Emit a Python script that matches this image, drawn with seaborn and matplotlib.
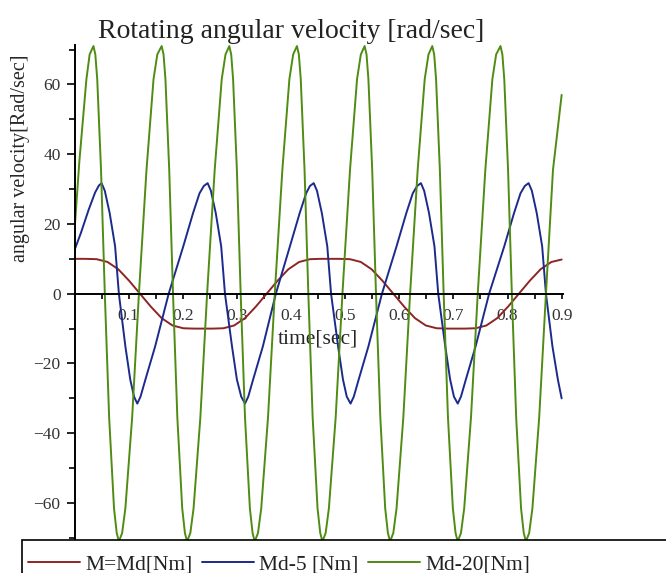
import pandas as pd
import seaborn as sns
import matplotlib.pyplot as plt
from matplotlib import patches
from matplotlib.ticker import FixedLocator, MultipleLocator

# Values (time in sec, angular velocity in rad/sec)
red_time = [0.000, 0.020, 0.041, 0.061, 0.081, 0.101, 0.121, 0.141, 0.161, 0.181,
            0.201, 0.221, 0.255, 0.275, 0.295, 0.315, 0.335, 0.355, 0.375, 0.395,
            0.415, 0.435, 0.455, 0.489, 0.509, 0.529, 0.549, 0.569, 0.589, 0.609,
            0.629, 0.649, 0.669, 0.689, 0.721, 0.741, 0.761, 0.781, 0.801, 0.821,
            0.841, 0.861, 0.881, 0.900]
red_velocity = [10.0, 10.0, 9.9, 9.1, 7.0, 3.7, 0.0, -3.7, -7.0, -9.1,
                -9.9, -10.0, -10.0, -9.9, -9.1, -7.0, -3.7, 0.0, 3.7, 7.0,
                9.1, 9.9, 10.0, 10.0, 9.9, 9.1, 7.0, 3.7, 0.0, -3.7,
                -7.0, -9.1, -9.9, -10.0, -10.0, -9.9, -9.1, -7.0, -3.7, 0.0,
                3.7, 7.0, 9.1, 9.8]

blue_time = [0.000, 0.012, 0.026, 0.038, 0.045, 0.050,
             0.056, 0.065, 0.075, 0.082, 0.094, 0.103, 0.110, 0.116,
             0.122, 0.131, 0.149, 0.174, 0.201, 0.219, 0.231, 0.239, 0.246,
             0.252, 0.261, 0.271, 0.278, 0.291, 0.300, 0.308, 0.315,
             0.321, 0.330, 0.348, 0.372, 0.398, 0.416, 0.428, 0.435, 0.442,
             0.448, 0.457, 0.467, 0.474, 0.487, 0.496, 0.503, 0.510,
             0.516, 0.525, 0.543, 0.568, 0.595, 0.613, 0.625, 0.633, 0.640,
             0.646, 0.655, 0.665, 0.672, 0.685, 0.694, 0.701, 0.708,
             0.714, 0.723, 0.741, 0.766, 0.794, 0.812, 0.824, 0.832, 0.839,
             0.845, 0.854, 0.864, 0.871, 0.883, 0.893, 0.900]
blue_velocity = [12.5, 17.5, 24.0, 29.0, 31.0, 31.7,
                 29.5, 23.1, 13.6, 0.0, -15.1, -24.6, -29.5, -31.5,
                 -29.5, -24.6, -15.1, 0.0, 13.6, 23.1, 28.8, 30.9, 31.7,
                 29.5, 23.1, 13.6, 0.0, -15.1, -24.6, -29.5, -31.5,
                 -29.5, -24.6, -15.1, 0.0, 13.6, 23.1, 28.8, 30.9, 31.7,
                 29.5, 23.1, 13.6, 0.0, -15.1, -24.6, -29.5, -31.5,
                 -29.5, -24.6, -15.1, 0.0, 13.6, 23.1, 28.8, 30.9, 31.7,
                 29.5, 23.1, 13.6, 0.0, -15.1, -24.6, -29.5, -31.5,
                 -29.5, -24.6, -15.1, 0.0, 13.6, 23.1, 28.8, 30.9, 31.7,
                 29.5, 23.1, 13.6, 0.0, -15.1, -24.6, -30.0]

green_time = [0.000, 0.009, 0.022, 0.028, 0.035,
              0.0385, 0.042, 0.049, 0.056, 0.064, 0.073, 0.078, 0.082,
              0.088, 0.094, 0.1065, 0.119, 0.133, 0.146, 0.153, 0.161,
              0.1645, 0.168, 0.175, 0.182, 0.190, 0.199, 0.204, 0.208,
              0.214, 0.220, 0.2325, 0.245, 0.259, 0.272, 0.279, 0.286,
              0.2895, 0.293, 0.300, 0.307, 0.315, 0.324, 0.329, 0.333,
              0.339, 0.345, 0.3575, 0.370, 0.384, 0.397, 0.404, 0.411,
              0.4145, 0.418, 0.425, 0.432, 0.440, 0.449, 0.454, 0.458,
              0.464, 0.470, 0.4825, 0.495, 0.509, 0.522, 0.529, 0.536,
              0.5395, 0.543, 0.550, 0.557, 0.565, 0.574, 0.579, 0.583,
              0.589, 0.595, 0.6075, 0.620, 0.634, 0.647, 0.654, 0.661,
              0.6645, 0.668, 0.675, 0.682, 0.690, 0.699, 0.704, 0.708,
              0.714, 0.720, 0.7325, 0.745, 0.759, 0.772, 0.779, 0.787,
              0.7905, 0.794, 0.801, 0.808, 0.816, 0.825, 0.830, 0.834,
              0.840, 0.846, 0.8585, 0.871, 0.884, 0.900]
green_velocity = [18.0, 38.0, 61.5, 68.6, 71.0,
                  68.6, 61.5, 35.5, 0.0, -35.5, -61.5, -68.6, -71.0,
                  -68.6, -61.5, -35.5, 0.0, 35.5, 61.5, 68.6, 71.0,
                  68.6, 61.5, 35.5, 0.0, -35.5, -61.5, -68.6, -71.0,
                  -68.6, -61.5, -35.5, 0.0, 35.5, 61.5, 68.6, 71.0,
                  68.6, 61.5, 35.5, 0.0, -35.5, -61.5, -68.6, -71.0,
                  -68.6, -61.5, -35.5, 0.0, 35.5, 61.5, 68.6, 71.0,
                  68.6, 61.5, 35.5, 0.0, -35.5, -61.5, -68.6, -71.0,
                  -68.6, -61.5, -35.5, 0.0, 35.5, 61.5, 68.6, 71.0,
                  68.6, 61.5, 35.5, 0.0, -35.5, -61.5, -68.6, -71.0,
                  -68.6, -61.5, -35.5, 0.0, 35.5, 61.5, 68.6, 71.0,
                  68.6, 61.5, 35.5, 0.0, -35.5, -61.5, -68.6, -71.0,
                  -68.6, -61.5, -35.5, 0.0, 35.5, 61.5, 68.6, 71.0,
                  68.6, 61.5, 35.5, 0.0, -35.5, -61.5, -68.6, -71.0,
                  -68.6, -61.5, -35.5, 0.0, 35.5, 57.0]

series_labels = ["M=Md[Nm]", "Md-5 [Nm]", "Md-20[Nm]"]
series_colors = ["#8E2525", "#1C2A8C", "#4F8C12"]

x_ticks = [0.1, 0.2, 0.3, 0.4, 0.5, 0.6, 0.7, 0.8, 0.9]
x_ticklabels = ["0.1", "0.2", "0.3", "0.4", "0.5", "0.6", "0.7", "0.8", "0.9"]
y_ticks = [-60, -40, -20, 0, 20, 40, 60]


def format_plot() -> None:
    """
    Maple-like look: serif text, thin black axes crossing at zero.
    """
    sns.set_theme(style="white")
    plt.rcParams["font.family"] = ["Liberation Serif", "DejaVu Serif"]
    plt.rcParams["axes.linewidth"] = 1.4
    plt.rcParams["axes.edgecolor"] = "black"
    plt.rcParams["xtick.color"] = "black"
    plt.rcParams["ytick.color"] = "black"
    plt.rcParams["xtick.labelcolor"] = "#333333"
    plt.rcParams["ytick.labelcolor"] = "#333333"
    plt.rcParams["text.color"] = "#222222"


def velocity_plot(out_file: str = "out.png") -> None:
    format_plot()

    fig = plt.figure(figsize=(6.66, 5.73), dpi=100)
    ax = fig.add_axes([74.5 / 666, 33 / 573, 488.5 / 666, 495 / 573])

    data = [(red_time, red_velocity), (blue_time, blue_velocity), (green_time, green_velocity)]
    for (t, v), label, color in zip(data, series_labels, series_colors):
        df = pd.DataFrame({"time": t, "velocity": v})
        sns.lineplot(data=df, x="time", y="velocity", ax=ax, color=color,
                     label=label, linewidth=1.4, estimator=None, sort=False)

    ax.set_xlim(0, 0.9025)
    ax.set_ylim(-70.6, 71.3)

    # axes cross at the origin
    ax.spines["left"].set_position(("data", 0))
    ax.spines["bottom"].set_position(("data", 0))
    ax.spines["top"].set_visible(False)
    ax.spines["right"].set_visible(False)

    ax.xaxis.set_major_locator(FixedLocator(x_ticks))
    ax.set_xticklabels(x_ticklabels)
    ax.xaxis.set_minor_locator(FixedLocator([x - 0.05 for x in x_ticks]))
    ax.yaxis.set_major_locator(FixedLocator(y_ticks))
    ax.yaxis.set_minor_locator(MultipleLocator(10))

    ax.tick_params(axis="x", which="both", direction="out", length=3.5, width=1.2,
                   labelsize=12.5, pad=7, bottom=True)
    ax.tick_params(axis="y", which="major", direction="out", length=6, width=1.2,
                   labelsize=12.5, pad=4, left=True)
    ax.tick_params(axis="y", which="minor", direction="out", length=4, width=1.2, left=True)

    ax.set_xlabel("time[sec]", fontsize=15.5)
    ax.xaxis.set_label_coords(0.4985, 0.426)
    ax.set_ylabel("angular velocity[Rad/sec]", fontsize=14.5)
    ax.yaxis.set_label_coords(-0.091, 0.772)
    ax.set_title("Rotating angular velocity [rad/sec]", fontsize=20, x=0.443, y=1.015, pad=0)

    # legend strip along the bottom edge
    handles, labels = ax.get_legend_handles_labels()
    ax.get_legend().remove()
    box = patches.Rectangle((22 / 666, -0.05), 1.0, 33 / 573 + 0.05, transform=fig.transFigure,
                            facecolor="white", edgecolor="black", linewidth=1.2, clip_on=False)
    fig.patches.append(box)
    fig.legend(handles, labels, loc="center left", bbox_to_anchor=(28 / 666, 1 - 564 / 573),
               ncol=3, frameon=False, fontsize=15.5, borderpad=0, borderaxespad=0,
               handlelength=2.4, handletextpad=0.25, columnspacing=0.45)

    fig.savefig(out_file, dpi=100)
    plt.close(fig)


if __name__ == "__main__":
    velocity_plot("out.png")
